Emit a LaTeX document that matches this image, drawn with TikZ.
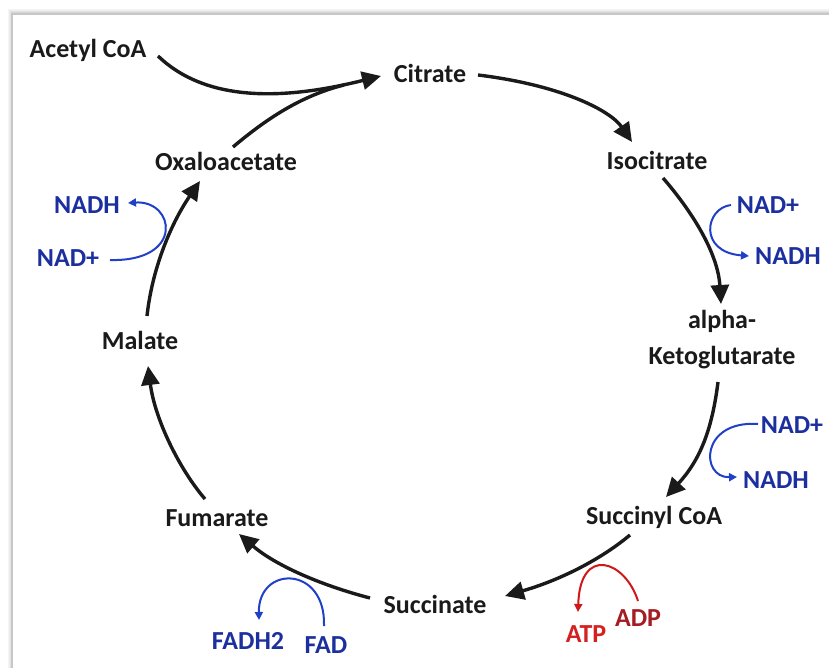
\documentclass[tikz,border=0pt]{standalone}
\usepackage{fontspec}
\setmainfont{Carlito}
\usetikzlibrary{arrows.meta}
\definecolor{ink}{HTML}{1A1A1A}
\definecolor{nadtext}{HTML}{1C2F9E}
\definecolor{nadline}{HTML}{2040C8}
\definecolor{atptext}{HTML}{D42020}
\definecolor{adptext}{HTML}{A51C24}
\definecolor{atpline}{HTML}{D01818}
\tikzset{
  metab/.style={inner sep=0pt, text=ink, font=\fontsize{26}{36}\selectfont\bfseries, align=center},
  cofactor/.style={inner sep=0pt, text=nadtext, font=\fontsize{26}{28}\selectfont\bfseries},
  energy/.style={inner sep=0pt, font=\fontsize{26}{28}\selectfont\bfseries},
  cyclearrow/.style={draw=ink, line width=3.4pt, -{Triangle[length=19pt,width=18pt]}},
  cycleline/.style={draw=ink, line width=3.4pt},
  sidearrow/.style={draw=nadline, line width=2pt, -{Triangle[length=8pt,width=8pt]}},
  redarrow/.style={draw=atpline, line width=2pt, -{Triangle[length=8pt,width=8pt]}},
}
\begin{document}
\begin{tikzpicture}[x=1pt,y=-1pt]
\useasboundingbox (0,0) rectangle (829,668);
\fill[white] (0,0) rectangle (829,668);
% panel edge with a soft shadow
\foreach \o/\c in {4/black!4,3/black!7,2/black!11,1/black!16}{
  \draw[line width=1pt,\c] (12-\o,668) -- (12-\o,14-\o) -- (829,14-\o);
}
\draw[line width=1.2pt,black!22] (12,668) -- (12,14) -- (829,14);

% metabolites
\node[metab] (acetyl)  at (88,50)   {Acetyl CoA};
\node[metab] (citrate) at (430,73)  {Citrate};
\node[metab] (isocit)  at (657,160) {Isocitrate};
\node[metab] (akg)     at (722,340) {alpha-\\Ketoglutarate};
\node[metab] (succoa)  at (654,517) {Succinyl CoA};
\node[metab] (succ)    at (435,604) {Succinate};
\node[metab] (fum)     at (217,518) {Fumarate};
\node[metab] (malate)  at (140,340) {Malate};
\node[metab] (oxalo)   at (226,161) {Oxaloacetate};

% cofactors
\node[cofactor] (nadpa) at (768,205) {NAD+};
\node[cofactor] (nadha) at (788,256) {NADH};
\node[cofactor] (nadpb) at (792,425) {NAD+};
\node[cofactor] (nadhb) at (776,480) {NADH};
\node[cofactor] (nadpc) at (68,258)  {NAD+};
\node[cofactor] (nadhc) at (87,205)  {NADH};
\node[cofactor] (fadh)  at (248,641) {FADH2};
\node[cofactor] (fad)   at (326,645) {FAD};
\node[energy,text=atptext] (atp) at (586,634) {ATP};
\node[energy,text=adptext] (adp) at (638,618) {ADP};

% joining point of the two inputs to citrate
\coordinate (merge) at (344,85);

% cycle
\draw[cyclearrow] ([shift={(70,6)}]acetyl.center) .. controls (212,108) and (300,96) .. ([shift={(-49,3)}]citrate.center);
\draw[cycleline] ([shift={(7,-14)}]oxalo.center) .. controls (265,120) and (300,96) .. (merge);
\draw[cyclearrow] ([shift={(48,2)}]citrate.center) .. controls (560,85) and (610,110) .. ([shift={(-25,-18)}]isocit.center);
\draw[cyclearrow] ([shift={(6,18)}]isocit.center) .. controls (695,215) and (718,255) .. ([shift={(-1,-36)}]akg.center);
\draw[cyclearrow] ([shift={(-4,42)}]akg.center) .. controls (712,430) and (700,460) .. ([shift={(12,-20)}]succoa.center);
\draw[cyclearrow] ([shift={(-24,18)}]succoa.center) .. controls (600,560) and (560,580) .. ([shift={(70,-8)}]succ.center);
\draw[cyclearrow] ([shift={(-65,-6)}]succ.center) .. controls (320,585) and (275,565) .. ([shift={(22,16)}]fum.center);
\draw[cyclearrow] ([shift={(-12,-19)}]fum.center) .. controls (180,470) and (155,420) .. ([shift={(8,26)}]malate.center);
\draw[cyclearrow] ([shift={(7,-24)}]malate.center) .. controls (152,270) and (170,225) .. ([shift={(-26,20)}]oxalo.center);

% cofactor exchanges
\draw[sidearrow] ([shift={(-37,0)}]nadpa.center) .. controls (705,208) and (698,252) .. ([shift={(-39,0)}]nadha.center);
\draw[sidearrow] ([shift={(-34,-1)}]nadpb.center) .. controls (700,420) and (700,478) .. ([shift={(-39,-3)}]nadhb.center);
\draw[sidearrow] ([shift={(42,2)}]nadpc.center) .. controls (185,262) and (175,200) .. ([shift={(41,-2)}]nadhc.center);
\draw[sidearrow] ([shift={(-2,-19)}]fad.center) .. controls (326,565) and (258,565) .. ([shift={(11,-21)}]fadh.center);
\draw[redarrow] ([shift={(0,-17)}]adp.center) .. controls (625,560) and (580,545) .. ([shift={(-8,-22)}]atp.center);
\end{tikzpicture}
\end{document}
